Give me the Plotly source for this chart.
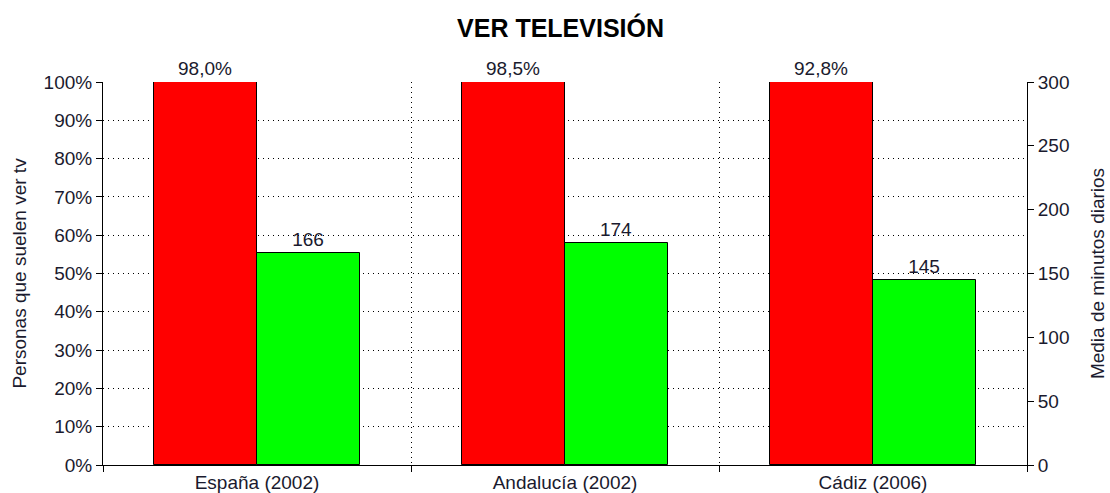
import plotly.graph_objects as go

categories = ["España (2002)", "Andalucía (2002)", "Cádiz (2006)"]
# red bars as drawn in the picture (all reach the 100% line) and their printed labels
pct_bar_heights = [100, 100, 100]
pct_labels = [98.0, 98.5, 92.8]
# green bars: average minutes per day (right axis)
minutes = [166, 174, 145]

FONT = "Liberation Sans, Arial, sans-serif"
TXT = "#1a1a2e"
FS = 19

def fmt_pct(v):
    return f"{v:.1f}".replace(".", ",") + "%"

fig = go.Figure()
fig.add_trace(go.Bar(
    x=categories, y=pct_bar_heights, yaxis="y",
    marker=dict(color="#ff0000", line=dict(color="black", width=1)),
    width=1/3, offset=-1/3,
    text=[fmt_pct(v) for v in pct_labels], textposition="outside",
    textfont=dict(family=FONT, size=FS, color=TXT),
    cliponaxis=False, constraintext="none", showlegend=False,
))
fig.add_trace(go.Bar(
    x=categories, y=minutes, yaxis="y2",
    marker=dict(color="#00ff00", line=dict(color="black", width=1)),
    width=1/3, offset=0,
    text=[str(v) for v in minutes], textposition="outside",
    textfont=dict(family=FONT, size=FS, color=TXT),
    cliponaxis=False, constraintext="none", showlegend=False,
))

fig.update_layout(
    width=1110, height=493,
    margin=dict(l=103, r=83, t=82, b=28, autoexpand=False),
    paper_bgcolor="white", plot_bgcolor="white",
    font=dict(family=FONT, size=FS, color=TXT),
    title=dict(text="<b>VER TELEVISIÓN</b>", x=0.505, xanchor="center",
               y=1 - 28 / 493, yanchor="middle",
               font=dict(family=FONT, size=25, color="black")),
    xaxis=dict(type="category", tickson="boundaries", showgrid=True, gridcolor="black",
               griddash="1px,4px", gridwidth=1, ticks="outside", ticklen=6, tickcolor="black",
               showline=True, linecolor="black", linewidth=1, automargin=False,
               tickfont=dict(family=FONT, size=FS, color=TXT), range=[-0.5, 2.5]),
    yaxis=dict(range=[0, 100], dtick=10, ticksuffix="%", showgrid=True, gridcolor="black",
               griddash="1px,4px", gridwidth=1, zeroline=False, ticks="outside", ticklen=6,
               tickcolor="black", showline=True, linecolor="black", linewidth=1, automargin=False,
               title=dict(text="Personas que suelen ver tv", standoff=11,
                          font=dict(family=FONT, size=FS, color=TXT)),
               tickfont=dict(family=FONT, size=FS, color=TXT)),
    yaxis2=dict(range=[0, 300], dtick=50, overlaying="y", side="right", showgrid=False,
                zeroline=False, ticks="outside", ticklen=6, tickcolor="black", automargin=False,
                showline=True, linecolor="black", linewidth=1,
                title=dict(text="Media de minutos diarios", standoff=22,
                           font=dict(family=FONT, size=FS, color=TXT)),
                tickfont=dict(family=FONT, size=FS, color=TXT)),
    bargap=0, bargroupgap=0,
)

fig.write_html("out.html", config={"displayModeBar": False},
               post_script="document.body.style.margin='0';document.body.style.overflow='hidden';")
